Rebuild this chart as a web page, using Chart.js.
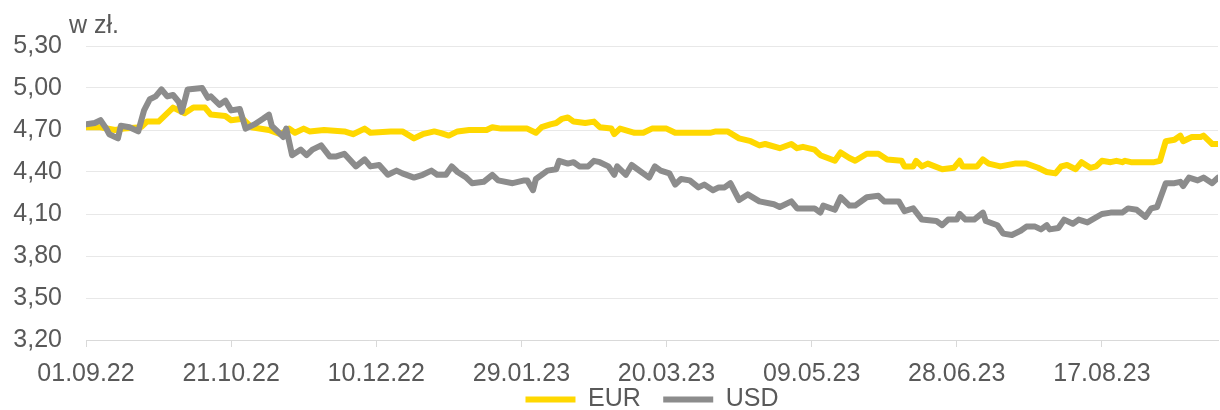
<!DOCTYPE html>
<html lang="pl">
<head>
<meta charset="UTF-8">
<title>EUR i USD w zł</title>
<script src="https://cdn.jsdelivr.net/npm/chart.js"></script>
<style>
    body { margin: 0; background: #fff; }
    #wrap { width: 1220px; height: 410px; position: relative; }
</style>
</head>
<body>
<div id="wrap"><canvas id="myChart"></canvas></div>
<script>
    // days counted from 01.09.2022
    const startDate = new Date(2022, 8, 1);
    const seriesNames = ['EUR', 'USD'];
    const yTicks = [3.20, 3.50, 3.80, 4.10, 4.40, 4.70, 5.00, 5.30];

    const eurDays = [0, 5, 10, 13, 19, 21, 25, 30, 34, 37, 41, 43, 48, 50, 54, 57, 63, 67, 70, 72,
        75, 77, 82, 89, 92, 96, 98, 105, 109, 113, 116, 120, 122, 125, 128, 132, 138, 140, 143, 152,
        155, 157, 160, 162, 164, 166, 168, 172, 175, 177, 181, 182, 184, 189, 192, 195, 200, 203, 209, 215,
        217, 221, 225, 229, 232, 234, 239, 243, 245, 247, 251, 253, 258, 260, 263, 265, 269, 273, 276, 281,
        282, 285, 286, 288, 290, 295, 299, 301, 302, 307, 309, 311, 315, 320, 324, 328, 331, 334, 336, 338,
        341, 343, 346, 348, 350, 353, 355, 357, 358, 360, 368, 370, 372, 375, 377, 378, 381, 384, 385, 388, 390];
    const eurValues = [4.72, 4.72, 4.70, 4.71, 4.72, 4.76, 4.76, 4.86, 4.82, 4.86, 4.86, 4.81, 4.80, 4.77, 4.78, 4.72, 4.70, 4.67, 4.71, 4.68,
        4.71, 4.69, 4.70, 4.69, 4.67, 4.71, 4.68, 4.69, 4.69, 4.64, 4.67, 4.69, 4.68, 4.66, 4.69, 4.70, 4.70, 4.72, 4.71, 4.71,
        4.68, 4.72, 4.74, 4.75, 4.78, 4.79, 4.76, 4.75, 4.76, 4.72, 4.71, 4.67, 4.71, 4.68, 4.68, 4.71, 4.71, 4.68, 4.68, 4.68,
        4.69, 4.69, 4.64, 4.62, 4.59, 4.60, 4.57, 4.60, 4.57, 4.58, 4.56, 4.52, 4.48, 4.54, 4.50, 4.48, 4.53, 4.53, 4.49, 4.48,
        4.44, 4.44, 4.48, 4.44, 4.46, 4.42, 4.43, 4.48, 4.44, 4.44, 4.49, 4.46, 4.44, 4.46, 4.46, 4.43, 4.40, 4.39, 4.44, 4.45,
        4.42, 4.47, 4.43, 4.44, 4.48, 4.47, 4.48, 4.47, 4.48, 4.47, 4.47, 4.48, 4.62, 4.63, 4.66, 4.62, 4.65, 4.65, 4.66, 4.60, 4.60];

    const usdDays = [0, 3, 5, 7, 8, 11, 12, 15, 18, 20, 22, 24, 26, 28, 30, 32, 33, 35, 40, 42,
        43, 46, 48, 50, 53, 55, 58, 61, 63, 64, 66, 68, 69, 71, 74, 76, 78, 81, 84, 86,
        89, 93, 96, 98, 101, 104, 107, 109, 113, 116, 119, 121, 124, 126, 128, 131, 133, 137, 140, 142,
        147, 151, 152, 154, 155, 159, 162, 163, 166, 168, 170, 173, 175, 177, 180, 182, 183, 186, 188, 190,
        194, 196, 198, 201, 203, 205, 208, 211, 213, 216, 218, 220, 222, 225, 228, 232, 237, 239, 243, 245,
        247, 251, 253, 254, 258, 260, 263, 265, 269, 273, 275, 280, 282, 285, 288, 293, 295, 297, 300, 301,
        303, 306, 309, 310, 314, 316, 319, 322, 324, 327, 329, 331, 332, 335, 337, 340, 342, 345, 350, 353,
        357, 359, 362, 365, 367, 369, 372, 375, 377, 378, 380, 383, 385, 388, 390];
    const usdValues = [4.74, 4.75, 4.77, 4.71, 4.67, 4.64, 4.73, 4.72, 4.69, 4.84, 4.92, 4.94, 4.99, 4.94, 4.95, 4.90, 4.83, 4.99, 5.00, 4.93,
        4.94, 4.88, 4.91, 4.84, 4.85, 4.71, 4.74, 4.78, 4.81, 4.73, 4.69, 4.65, 4.71, 4.52, 4.56, 4.52, 4.56, 4.59, 4.51, 4.51,
        4.53, 4.44, 4.49, 4.44, 4.45, 4.38, 4.41, 4.39, 4.36, 4.38, 4.41, 4.38, 4.38, 4.44, 4.40, 4.36, 4.32, 4.33, 4.38, 4.34,
        4.32, 4.34, 4.34, 4.27, 4.35, 4.41, 4.42, 4.48, 4.46, 4.47, 4.44, 4.44, 4.48, 4.47, 4.44, 4.38, 4.44, 4.38, 4.45, 4.42,
        4.36, 4.44, 4.41, 4.39, 4.31, 4.35, 4.34, 4.29, 4.31, 4.27, 4.29, 4.29, 4.32, 4.20, 4.24, 4.19, 4.17, 4.15, 4.19, 4.14,
        4.14, 4.14, 4.11, 4.16, 4.13, 4.22, 4.16, 4.16, 4.22, 4.23, 4.19, 4.19, 4.12, 4.14, 4.06, 4.05, 4.02, 4.06, 4.06, 4.10,
        4.06, 4.06, 4.11, 4.05, 4.02, 3.96, 3.95, 3.98, 4.01, 4.01, 3.99, 4.02, 3.99, 4.00, 4.06, 4.03, 4.06, 4.04, 4.10, 4.11,
        4.11, 4.14, 4.13, 4.08, 4.14, 4.15, 4.32, 4.32, 4.33, 4.30, 4.36, 4.34, 4.36, 4.32, 4.36];

    const textColor = '#595959';
    const font = { family: 'Arial, "Liberation Sans", sans-serif', size: 25 };

    function toPoints(days, values) {
        return days.map((d, i) => ({ x: d, y: values[i] }));
    }

    function formatDay(v) {
        const d = new Date(startDate.getTime());
        d.setDate(d.getDate() + v);
        const dd = String(d.getDate()).padStart(2, '0');
        const mm = String(d.getMonth() + 1).padStart(2, '0');
        const yy = String(d.getFullYear()).slice(2);
        return dd + '.' + mm + '.' + yy;
    }

    // "w zł." unit label above the y axis
    const unitLabel = {
        id: 'unitLabel',
        afterDraw(chart) {
            const ctx = chart.ctx;
            ctx.save();
            ctx.font = font.size + 'px ' + font.family;
            ctx.fillStyle = textColor;
            ctx.textAlign = 'left';
            ctx.textBaseline = 'alphabetic';
            ctx.fillText('w zł.', 69, 33);
            ctx.restore();
        }
    };

    const ctx = document.getElementById('myChart').getContext('2d');
    new Chart(ctx, {
        type: 'line',
        data: {
            datasets: [{
                label: seriesNames[0],
                data: toPoints(eurDays, eurValues),
                borderColor: '#FFD800',
                backgroundColor: '#FFD800',
                borderWidth: 6,
                borderCapStyle: 'round',
                borderJoinStyle: 'round',
                pointRadius: 0,
                tension: 0,
                order: 1   // drawn under USD
            }, {
                label: seriesNames[1],
                data: toPoints(usdDays, usdValues),
                borderColor: '#8C8C8C',
                backgroundColor: '#8C8C8C',
                borderWidth: 6,
                borderCapStyle: 'round',
                borderJoinStyle: 'round',
                pointRadius: 0,
                tension: 0,
                order: 0
            }]
        },
        options: {
            responsive: true,
            maintainAspectRatio: false,
            animation: false,
            layout: { padding: { top: 46, right: 2, left: 0, bottom: 0 } },
            plugins: {
                legend: {
                    position: 'bottom',
                    fullSize: false,
                    maxHeight: 26,
                    labels: {
                        usePointStyle: true,
                        pointStyle: 'line',
                        pointStyleWidth: 50,
                        boxHeight: 25,
                        padding: 3,
                        color: textColor,
                        font: font,
                        sort: (a, b) => a.datasetIndex - b.datasetIndex,
                        // extra room after the first entry
                        generateLabels: chart => {
                            const items = Chart.defaults.plugins.legend.labels.generateLabels(chart);
                            return items.map(it => it.datasetIndex === 0 ? { ...it, text: it.text + '\u2002 ' } : it);
                        }
                    }
                },
                tooltip: { enabled: false }
            },
            scales: {
                x: {
                    type: 'linear',
                    min: 0,
                    max: 390,
                    afterFit: s => { s.height = 44; },
                    border: { display: true, color: '#D9D9D9', width: 1 },
                    grid: { drawOnChartArea: false, drawTicks: true, tickLength: 7, color: '#D9D9D9' },
                    ticks: {
                        stepSize: 50,
                        includeBounds: false,
                        autoSkip: false,
                        maxRotation: 0,
                        padding: 15,
                        color: textColor,
                        font: { family: font.family, size: font.size, lineHeight: 1 },
                        callback: v => formatDay(v)
                    }
                },
                y: {
                    min: yTicks[0],
                    max: yTicks[yTicks.length - 1],
                    afterFit: s => { s.width = 86; },
                    border: { display: false },
                    grid: { color: '#E8E8E8', drawTicks: false },
                    ticks: {
                        stepSize: 0.3,
                        padding: 24,
                        color: textColor,
                        font: font,
                        callback: v => v.toFixed(2).replace('.', ',')
                    }
                }
            }
        },
        plugins: [unitLabel]
    });
</script>
</body>
</html>
